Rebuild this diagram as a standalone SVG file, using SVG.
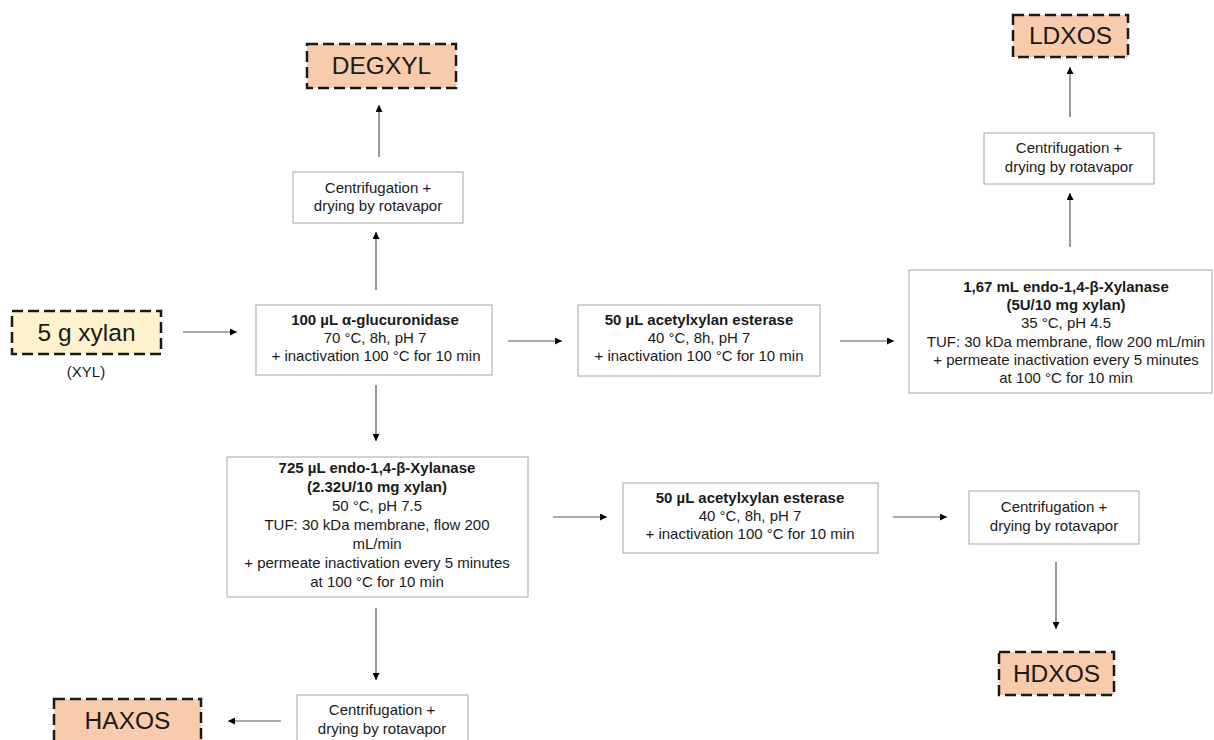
<svg xmlns="http://www.w3.org/2000/svg" width="1214" height="740" viewBox="0 0 1214 740">
<style>
.box{fill:#fff;stroke:#a6a6a6;stroke-width:1}
.term{stroke:#1a1a1a;stroke-width:2.5;stroke-dasharray:11,5}
.peach{fill:#f8cbad}
.cream{fill:#fff2cc}
text{font-family:"Liberation Sans",Arial,sans-serif;fill:#1a1a1a;text-anchor:middle}
.t{font-size:15px}
.b{font-weight:bold}
.big{font-size:24.5px}
.conn line{stroke:#555;stroke-width:1.2;marker-end:url(#ah)}
</style>
<defs>
<marker id="ah" viewBox="0 0 10 10" refX="10" refY="5" markerWidth="7" markerHeight="7" markerUnits="userSpaceOnUse" orient="auto">
<path d="M0,0 L10,5 L0,10 z" fill="#000"/>
</marker>
</defs>
<rect width="1214" height="740" fill="#fff"/>
<g class="conn">
<line x1="183" y1="332" x2="237" y2="332"/>
<line x1="508" y1="341" x2="562" y2="341"/>
<line x1="840" y1="341" x2="894" y2="341"/>
<line x1="376" y1="290" x2="376" y2="232"/>
<line x1="379" y1="157" x2="379" y2="105"/>
<line x1="376" y1="385" x2="376" y2="441"/>
<line x1="1070" y1="247" x2="1070" y2="193"/>
<line x1="1070" y1="117" x2="1070" y2="67"/>
<line x1="553" y1="517" x2="607" y2="517"/>
<line x1="893" y1="517" x2="947" y2="517"/>
<line x1="1056" y1="562" x2="1056" y2="629"/>
<line x1="376" y1="608" x2="376" y2="680"/>
<line x1="281" y1="721" x2="228" y2="721"/>
</g>
<g id="xyl">
<rect class="term cream" x="12" y="311" width="149" height="43"/>
<text class="big" x="86.5" y="341">5 g xylan</text>
<text class="t" x="86" y="377">(XYL)</text>
</g>
<g id="glucuronidase">
<rect class="box" x="256" y="305" width="236" height="70"/>
<text class="t b" x="375" y="325">100 µL α-glucuronidase</text>
<text class="t" x="375" y="343">70 °C, 8h, pH 7</text>
<text class="t" x="376" y="361">+ inactivation 100 °C for 10 min</text>
</g>
<g id="centri1">
<rect class="box" x="293" y="172" width="170" height="51"/>
<text class="t" x="378" y="193">Centrifugation +</text>
<text class="t" x="378" y="211">drying by rotavapor</text>
</g>
<g id="degxyl">
<rect class="term peach" x="307" y="44" width="149" height="44"/>
<text class="big" x="381.5" y="74">DEGXYL</text>
</g>
<g id="esterase1">
<rect class="box" x="578" y="305" width="242" height="71"/>
<text class="t b" x="699" y="325">50 µL acetylxylan esterase</text>
<text class="t" x="699" y="343">40 °C, 8h, pH 7</text>
<text class="t" x="699" y="361">+ inactivation 100 °C for 10 min</text>
</g>
<g id="xylanase1">
<rect class="box" x="909" y="270" width="303" height="123"/>
<text class="t b" x="1066" y="292">1,67 mL endo-1,4-β-Xylanase</text>
<text class="t b" x="1066" y="310">(5U/10 mg xylan)</text>
<text class="t" x="1066" y="328">35 °C, pH 4.5</text>
<text class="t" x="1066" y="347">TUF: 30 kDa membrane, flow 200 mL/min</text>
<text class="t" x="1066" y="365">+ permeate inactivation every 5 minutes</text>
<text class="t" x="1066" y="383">at 100 °C for 10 min</text>
</g>
<g id="centri2">
<rect class="box" x="984" y="133" width="170" height="51"/>
<text class="t" x="1069" y="153">Centrifugation +</text>
<text class="t" x="1069" y="172">drying by rotavapor</text>
</g>
<g id="ldxos">
<rect class="term peach" x="1013" y="15" width="115" height="42"/>
<text class="big" x="1070.5" y="44">LDXOS</text>
</g>
<g id="xylanase2">
<rect class="box" x="227" y="457" width="301" height="140"/>
<text class="t b" x="377" y="473">725 µL endo-1,4-β-Xylanase</text>
<text class="t b" x="377" y="492">(2.32U/10 mg xylan)</text>
<text class="t" x="377" y="511">50 °C, pH 7.5</text>
<text class="t" x="377" y="530">TUF: 30 kDa membrane, flow 200</text>
<text class="t" x="377" y="549">mL/min</text>
<text class="t" x="377" y="568">+ permeate inactivation every 5 minutes</text>
<text class="t" x="377" y="587">at 100 °C for 10 min</text>
</g>
<g id="esterase2">
<rect class="box" x="623" y="483" width="255" height="70"/>
<text class="t b" x="750" y="503">50 µL acetylxylan esterase</text>
<text class="t" x="750" y="521">40 °C, 8h, pH 7</text>
<text class="t" x="750" y="539">+ inactivation 100 °C for 10 min</text>
</g>
<g id="centri3">
<rect class="box" x="969" y="491" width="170" height="53"/>
<text class="t" x="1054" y="512">Centrifugation +</text>
<text class="t" x="1054" y="531">drying by rotavapor</text>
</g>
<g id="hdxos">
<rect class="term peach" x="999" y="652" width="115" height="43"/>
<text class="big" x="1056.5" y="682">HDXOS</text>
</g>
<g id="centri4">
<rect class="box" x="297" y="695" width="171" height="55"/>
<text class="t" x="382" y="715">Centrifugation +</text>
<text class="t" x="382" y="734">drying by rotavapor</text>
</g>
<g id="haxos">
<rect class="term peach" x="54" y="699" width="147" height="50"/>
<text class="big" x="127.5" y="729">HAXOS</text>
</g>
</svg>
